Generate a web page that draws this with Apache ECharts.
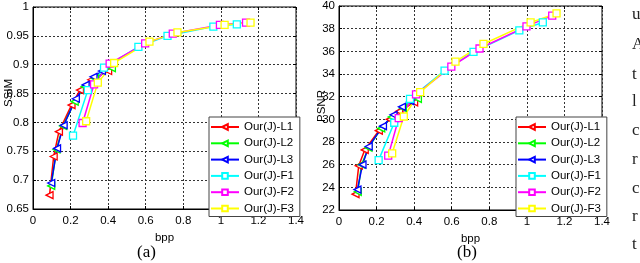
<!DOCTYPE html>
<html>
<head>
<meta charset="utf-8">
<script src="https://cdn.jsdelivr.net/npm/echarts@6/dist/echarts.min.js"></script>
<style>
html,body{margin:0;padding:0;background:#fff;overflow:hidden;}
#c{width:640px;height:263px;}
</style>
</head>
<body>
<div id="c"></div>
<script>
// ---- data ----
const seriesNames = ['Our(J)-L1','Our(J)-L2','Our(J)-L3','Our(J)-F1','Our(J)-F2','Our(J)-F3'];
const seriesColors = ['#ff0000','#00ff00','#0000ff','#00ffff','#ff00ff','#ffff00'];
const xTicks = [0,0.2,0.4,0.6,0.8,1,1.2,1.4];
const ssimTicks = [0.65,0.7,0.75,0.8,0.85,0.9,0.95,1];
const psnrTicks = [22,24,26,28,30,32,34,36,38,40];

// SSIM vs bpp  (a)
const ssimL1 = [[0.088,0.674],[0.110,0.741],[0.138,0.784],[0.205,0.830],[0.250,0.856],[0.310,0.874],[0.400,0.889]];
const ssimL2 = [[0.097,0.690],[0.125,0.753],[0.160,0.794],[0.222,0.836],[0.275,0.862],[0.330,0.876],[0.420,0.894]];
const ssimL3 = [[0.097,0.695],[0.128,0.755],[0.163,0.795],[0.228,0.841],[0.280,0.865],[0.322,0.879],[0.367,0.889]];
const ssimF1 = [[0.213,0.777],[0.292,0.856],[0.378,0.895],[0.561,0.931],[0.716,0.950],[0.960,0.966],[1.085,0.970]];
const ssimF2 = [[0.264,0.799],[0.325,0.866],[0.408,0.902],[0.597,0.937],[0.744,0.954],[0.995,0.969],[1.134,0.973]];
const ssimF3 = [[0.283,0.802],[0.345,0.869],[0.432,0.903],[0.620,0.940],[0.769,0.956],[1.020,0.969],[1.158,0.973]];

// PSNR vs bpp  (b)
const psnrL1 = [[0.088,23.4],[0.105,25.9],[0.137,27.3],[0.212,29.0],[0.270,30.0],[0.320,30.7],[0.400,31.5]];
const psnrL2 = [[0.100,23.6],[0.120,26.0],[0.157,27.5],[0.225,29.2],[0.280,30.2],[0.340,31.0],[0.420,31.8]];
const psnrL3 = [[0.098,23.8],[0.125,26.0],[0.158,27.6],[0.234,29.4],[0.290,30.4],[0.335,31.1],[0.380,31.6]];
const psnrF1 = [[0.211,26.4],[0.294,29.7],[0.378,31.8],[0.562,34.3],[0.716,35.95],[0.960,37.85],[1.085,38.55]];
const psnrF2 = [[0.262,26.8],[0.318,30.1],[0.410,32.2],[0.598,34.65],[0.748,36.25],[0.998,38.2],[1.135,39.15]];
const psnrF3 = [[0.283,27.0],[0.345,30.25],[0.432,32.4],[0.620,35.1],[0.769,36.65],[1.020,38.55],[1.158,39.35]];

const ssimData = [ssimL1,ssimL2,ssimL3,ssimF1,ssimF2,ssimF3];
const psnrData = [psnrL1,psnrL2,psnrL3,psnrF1,psnrF2,psnrF3];

const sideLetters = ['u','A','t','l','c','r','c','r','t'];
// ---- chart ----
const chart = echarts.init(document.getElementById('c'), null, {renderer:'canvas'});
const fmt = v => String(+(+v).toFixed(2));
const labelFont = {fontFamily:'Liberation Sans, Arial, sans-serif', fontSize:11.5, color:'#000'};

function xAx(gi, pos){
  const main = pos === 'bottom';
  return {
    type:'value', gridIndex:gi, position:pos, min:0, max:1.4, interval:0.2,
    axisLine:{show:main, onZero:false, lineStyle:{color:'#000',width:1}},
    axisTick:{show:true, inside:true, length:3, lineStyle:{color:'#000'}},
    axisLabel:{show:main, formatter:fmt, margin:6, ...labelFont},
    splitLine:{show:main, lineStyle:{color:'#333', type:[2,2], width:1}},
    name: main ? 'bpp' : '', nameLocation:'middle', nameGap:17,
    nameTextStyle:{fontFamily:'Liberation Sans, Arial, sans-serif', fontSize:11.5, color:'#000'}
  };
}
function yAx(gi, pos, min, max, interval){
  const main = pos === 'left';
  return {
    type:'value', gridIndex:gi, position:pos, min:min, max:max, interval:interval,
    axisLine:{show:main, onZero:false, lineStyle:{color:'#000',width:1}},
    axisTick:{show:true, inside:true, length:3, lineStyle:{color:'#000'}},
    axisLabel:{show:main, formatter:fmt, margin:4, ...labelFont},
    splitLine:{show:main, lineStyle:{color:'#333', type:[2,2], width:1}}
  };
}

const series = [];
[ssimData, psnrData].forEach((dataset, gi) => {
  dataset.forEach((d, i) => {
    const isL = i < 3;
    series.push({
      type:'line', name:seriesNames[i], xAxisIndex:gi*2, yAxisIndex:gi*2,
      data:d, symbol: isL ? 'triangle' : 'rect', symbolRotate: isL ? 90 : 0,
      symbolSize: 7, showAllSymbol:true, clip:false,
      lineStyle:{color:seriesColors[i], width:1.5},
      itemStyle:{color:'#fff', borderColor:seriesColors[i], borderWidth:1.3},
      emphasis:{disabled:true}, animation:false
    });
  });
});

function legend(left, top){
  return {
    orient:'vertical', left:left, top:top, width:83,
    backgroundColor:'#fff', borderColor:'#444', borderWidth:1,
    padding:[4,6,2,1], itemGap:4.3, itemWidth:28, itemHeight:7,
    textStyle:{fontFamily:'Liberation Sans, Arial, sans-serif', fontSize:11.5, color:'#000', lineHeight:10},
    data:seriesNames.map(n=>({name:n}))
  };
}

const graphics = [
  {type:'text', left:148-11, top:244, style:{text:'(a)', font:'17px "Liberation Serif", serif', fill:'#000'}},
  {type:'text', left:468-11, top:244, style:{text:'(b)', font:'17px "Liberation Serif", serif', fill:'#000'}},
  {type:'text', x:3, y:93, rotation:Math.PI/2, style:{text:'SSIM', font:'11.5px "Liberation Sans", Arial, sans-serif', fill:'#000', align:'center', verticalAlign:'top'}},
  {type:'text', x:316, y:106, rotation:Math.PI/2, style:{text:'PSNR', font:'11.5px "Liberation Sans", Arial, sans-serif', fill:'#000', align:'center', verticalAlign:'top'}}
];
const letterY = [6,36,66,93,122,151,180,208,236];
sideLetters.forEach((ch, k) => {
  graphics.push({type:'text', x:632, y:letterY[k], style:{text:ch, font:'17px "Liberation Serif", serif', fill:'#222'}});
});

chart.setOption({
  animation:false,
  backgroundColor:'#fff',
  grid:[
    {left:33, top:7, width:263, height:202, show:true, borderColor:'#000', borderWidth:1, backgroundColor:'#fff'},
    {left:339, top:6, width:263, height:204, show:true, borderColor:'#000', borderWidth:1, backgroundColor:'#fff'}
  ],
  xAxis:[xAx(0,'bottom'), xAx(0,'top'), xAx(1,'bottom'), xAx(1,'top')],
  yAxis:[yAx(0,'left',0.65,1,0.05), yAx(0,'right',0.65,1,0.05), yAx(1,'left',22,40,2), yAx(1,'right',22,40,2)],
  legend:[legend(209,117), legend(516,117)],
  series:series,
  graphic:graphics
});
</script>
</body>
</html>
